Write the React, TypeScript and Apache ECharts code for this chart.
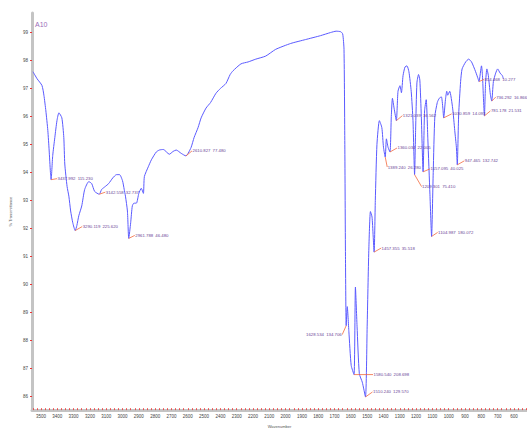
import React, { useEffect, useRef } from "react";
import * as echarts from "echarts";

// Spectrum (wavenumber cm-1, % transmittance)
const wavenumbers = [
  3549, 3524, 3494, 3482, 3470, 3458, 3450, 3442, 3437.992, 3428, 3415, 3402, 3390, 3372, 3360, 3354, 3340, 3329, 3318, 3305,
  3290.119, 3280, 3268, 3250, 3232, 3207, 3189, 3171, 3142.558, 3128, 3105, 3085, 3060, 3037, 3018, 3000, 2990, 2982, 2970,
  2961.788, 2950, 2940, 2930, 2915, 2900, 2885, 2872, 2866, 2842, 2823, 2793, 2774, 2750, 2713, 2690, 2671, 2640, 2610.827,
  2597, 2579, 2561, 2537, 2518, 2488, 2460, 2427, 2400, 2366, 2340, 2323, 2274, 2230, 2183, 2122, 2061, 1969, 1878, 1786,
  1725, 1690, 1662, 1650, 1642, 1637, 1633, 1628.534, 1622, 1612, 1598, 1580.54, 1572, 1562, 1548, 1530, 1510.24, 1500,
  1490, 1480, 1470, 1457.355, 1450, 1440, 1425, 1410, 1400, 1389.24, 1382, 1372, 1360.034, 1352, 1345, 1335, 1321.039,
  1311, 1299, 1290, 1280, 1268, 1256, 1244, 1230, 1219, 1209.301, 1203, 1195, 1185, 1177, 1168, 1157.095, 1148, 1138, 1128,
  1115, 1104.987, 1095, 1085, 1070, 1058, 1045, 1036, 1030.859, 1020, 1012, 1006, 994, 976, 963, 953, 947.465, 939, 927,
  918, 896, 878, 860, 835, 820, 814.468, 799, 793, 787, 781.178, 774, 766, 757, 745, 736.292, 726, 712, 700, 685, 671, 665,
];
const transmittance = [
  97.6, 97.35, 97.11, 96.76, 96.2, 95.5, 94.8, 94.0, 93.74, 94.6, 95.25, 95.85, 96.13, 95.95, 95.25, 94.3, 93.5, 93.15, 92.62, 92.2,
  91.92, 92.1, 92.45, 92.8, 93.39, 93.67, 93.6, 93.32, 93.22, 93.39, 93.5, 93.6, 93.8, 93.92, 93.92, 93.7, 93.4, 93.15, 92.62,
  91.64, 92.2, 92.8, 92.9, 92.9, 93.25, 93.43, 93.25, 93.85, 94.2, 94.45, 94.73, 94.8, 94.82, 94.65, 94.75, 94.8, 94.68, 94.59,
  94.69, 94.9, 95.25, 95.6, 95.95, 96.3, 96.5, 96.83, 97.0, 97.18, 97.5, 97.63, 97.88, 97.95, 98.05, 98.16, 98.4, 98.61, 98.75, 98.89,
  99.0, 99.05, 99.03, 98.95, 98.4, 95.0, 91.0, 88.52, 89.2, 88.3, 87.1, 86.77, 89.9, 88.5, 86.8, 86.5, 85.97, 88.5,
  91.2, 92.6, 92.4, 91.15, 93.0, 95.0, 95.85, 95.6, 94.9, 94.55, 95.2, 94.9, 94.73, 96.0, 96.65, 96.3, 95.85,
  96.9, 97.1, 96.85, 97.46, 97.77, 97.81, 97.6, 96.9, 95.85, 93.92, 95.5, 97.2, 97.5, 97.3, 96.0, 94.02, 96.2, 96.6, 95.2,
  93.2, 91.71, 94.0, 96.0, 96.5, 96.65, 96.7, 96.3, 95.95, 96.6, 96.9, 96.76, 96.9, 96.3, 95.5, 94.9, 94.27, 96.06, 97.25,
  97.7, 97.95, 98.05, 97.95, 97.6, 97.35, 97.25, 97.81, 97.46, 96.65, 96.02, 97.2, 97.7, 97.46, 96.8, 96.55, 97.25, 97.55, 97.7, 97.55, 97.46, 97.35,
];

// Peak picks
const peakWn = [3437.992, 3290.119, 3142.558, 2961.788, 2610.827, 1628.534, 1580.54, 1510.24, 1457.355, 1389.24, 1360.034, 1321.039, 1209.301, 1157.095, 1104.987, 1030.859, 947.465, 814.468, 781.178, 736.292];
const peakIntensity = ["115.230", "225.620", "32.737", "46.480", "77.480", "134.706", "208.698", "129.570", "35.518", "26.280", "22.005", "16.562", "75.410", "40.025", "180.072", "14.093", "132.742", "10.277", "21.531", "16.866"];

// Axis ticks
const xTickLabels = [3500, 3400, 3300, 3200, 3100, 3000, 2900, 2800, 2700, 2600, 2500, 2400, 2300, 2200, 2100, 2000, 1900, 1800, 1700, 1600, 1500, 1400, 1300, 1200, 1100, 1000, 900, 800, 700, 600];
const yTickLabels = [86, 87, 88, 89, 90, 91, 92, 93, 94, 95, 96, 97, 98, 99];

// label offsets (layout only): [dx, dy, align]
const labelOffsets: [number, number, string][] = [
  [6, -1, "left"], [7, -4, "left"], [6, -2, "left"], [6, -3, "left"], [6, -5, "left"], [-4, 9, "right"], [19, 0, "left"],
  [7, -5, "left"], [7, -4, "left"], [2, 10, "left"], [7, -4, "left"], [6, -5, "left"], [7, 12, "left"], [7, -3, "left"],
  [6, -4, "left"], [8, -4, "left"], [7, -4, "left"], [5, -2, "left"], [6, -5, "left"], [4, -4, "left"],
];

const FONT = '"Liberation Sans", Arial, sans-serif';

export default function App() {
  const ref = useRef<HTMLDivElement>(null);
  useEffect(() => {
    if (!ref.current) return;
    const chart = echarts.init(ref.current, undefined, { renderer: "svg" });
    const lineData = wavenumbers.map((w, i) => [w, transmittance[i]]);
    const peakData = peakWn.map((w, i) => [w, transmittance[wavenumbers.indexOf(w)], i]);
    const minorTicks: number[] = [];
    for (let v = 3550; v >= 525; v -= 25) minorTicks.push(v);

    chart.setOption({
      animation: false,
      backgroundColor: "#ffffff",
      grid: { left: 30, right: 0, top: 13, bottom: 15, containLabel: false },
      graphic: [
        {
          type: "text",
          left: 35,
          top: 21,
          style: { text: "A10", fill: "#9a6cb8", fontSize: 7, fontFamily: FONT },
        },
      ],
      xAxis: {
        type: "value",
        inverse: true,
        min: 520,
        max: 3555,
        name: "Wavenumber",
        nameLocation: "middle",
        nameGap: 11,
        nameTextStyle: { fontSize: 4, color: "#555", fontFamily: FONT },
        axisLine: { show: true, onZero: false, lineStyle: { color: "#c4c4c4", width: 3 } },
        axisTick: { show: true, inside: true, length: 2, customValues: minorTicks, lineStyle: { color: "#ee3333", width: 0.8 } },
        axisLabel: {
          customValues: xTickLabels,
          fontSize: 4.5,
          color: "#444",
          margin: 4,
          fontFamily: FONT,
          formatter: (v: number) => String(v),
        },
        splitLine: { show: false },
      },
      yAxis: {
        type: "value",
        min: 85.5,
        max: 99.7,
        name: "% Transmittance",
        nameLocation: "middle",
        nameGap: 20,
        nameRotate: 90,
        nameTextStyle: { fontSize: 4, color: "#555", fontFamily: FONT },
        axisLine: { show: true, onZero: false, lineStyle: { color: "#c4c4c4", width: 3 } },
        axisTick: { show: true, length: 2, customValues: yTickLabels, lineStyle: { color: "#ee3333", width: 1 } },
        axisLabel: {
          customValues: yTickLabels,
          fontSize: 4.5,
          color: "#444",
          margin: 4,
          fontFamily: FONT,
          formatter: (v: number) => String(v),
        },
        splitLine: { show: false },
      },
      series: [
        {
          type: "line",
          data: lineData,
          showSymbol: false,
          smooth: 0.2,
          lineStyle: { color: "#5a5aff", width: 1 },
          z: 2,
        },
        {
          type: "custom",
          data: peakData,
          encode: { x: 0, y: 1 },
          clip: false,
          z: 3,
          renderItem: (params: any, api: any) => {
            const idx = api.value(2);
            const p = api.coord([api.value(0), api.value(1)]);
            const [dx, dy, align] = labelOffsets[idx];
            const ex = p[0] + dx;
            const ey = p[1] + dy;
            const text = peakWn[idx].toFixed(3) + "\u2002" + peakIntensity[idx];
            return {
              type: "group",
              children: [
                {
                  type: "line",
                  shape: { x1: p[0], y1: p[1], x2: ex, y2: ey },
                  style: { stroke: "#f26a3d", lineWidth: 0.8 },
                },
                {
                  type: "text",
                  x: ex + (align === "left" ? 0.5 : -0.5),
                  y: ey,
                  style: {
                    text,
                    fill: "#6a3f96",
                    fontSize: 4.3,
                    fontFamily: FONT,
                    align,
                    verticalAlign: "middle",
                  },
                },
              ],
            };
          },
        },
      ],
    });
    return () => chart.dispose();
  }, []);
  return (
    <div
      ref={ref}
      style={{ position: "fixed", left: 0, top: 0, width: 527, height: 433, background: "#fff" }}
    />
  );
}
